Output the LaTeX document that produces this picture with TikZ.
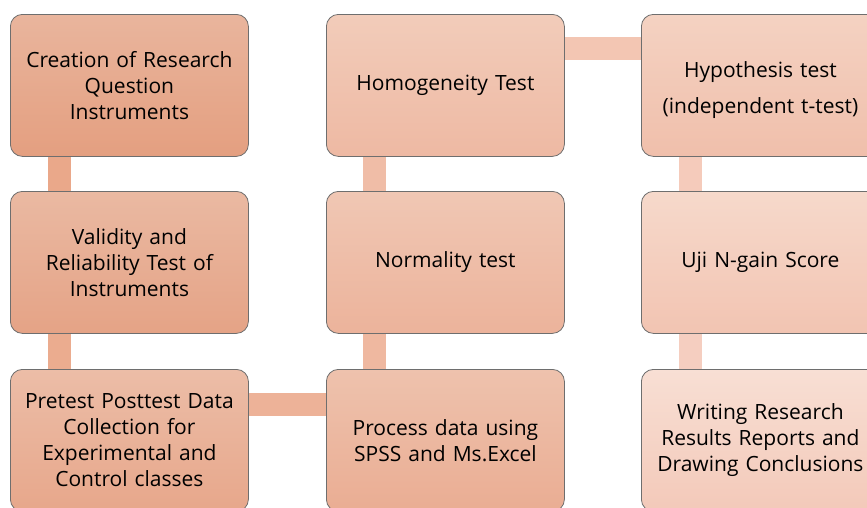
\documentclass[tikz,border=0pt]{standalone}
\usepackage{fontspec}
\setmainfont{Open Sans}[WordSpace=0.7]
\usetikzlibrary{backgrounds}

% step colours, dark (first step) to light (last step)
\definecolor{t1}{HTML}{E9B59D}\definecolor{u1}{HTML}{E49F80}
\definecolor{t2}{HTML}{EAB9A2}\definecolor{u2}{HTML}{E5A386}
\definecolor{t3}{HTML}{ECBDA7}\definecolor{u3}{HTML}{E7A78B}
\definecolor{t4}{HTML}{EEC2AD}\definecolor{u4}{HTML}{EAAD93}
\definecolor{t5}{HTML}{F0C7B4}\definecolor{u5}{HTML}{ECB39B}
\definecolor{t6}{HTML}{F2CCBA}\definecolor{u6}{HTML}{EEB9A3}
\definecolor{t7}{HTML}{F4D2C2}\definecolor{u7}{HTML}{F0BFAB}
\definecolor{t8}{HTML}{F6D9CB}\definecolor{u8}{HTML}{F2C4B2}
\definecolor{t9}{HTML}{F8DFD4}\definecolor{u9}{HTML}{F3C9B9}
\definecolor{boxline}{HTML}{6E6E6E}
\definecolor{k1}{HTML}{EAA88A}
\definecolor{k2}{HTML}{EBAC8F}
\definecolor{k3}{HTML}{EDB298}
\definecolor{k4}{HTML}{EFB8A0}
\definecolor{k5}{HTML}{F0BDA7}
\definecolor{k6}{HTML}{F3C6B3}
\definecolor{k7}{HTML}{F5CBBB}
\definecolor{k8}{HTML}{F5CEC0}

\begin{document}
\begin{tikzpicture}[x=1pt,y=-1pt,
  box/.style 2 args={draw=boxline, line width=0.8pt, rounded corners=12pt,
    minimum width=238pt, minimum height=142pt, anchor=north west,
    align=center, text width=234pt, inner sep=0pt,
    top color=#1, bottom color=#2,
    font=\fontsize{21}{26}\selectfont},
  bar/.style={line width=23pt, draw=#1, line cap=butt}]

\useasboundingbox (0,0) rectangle (867,507);

% column 1
\node[box={t1}{u1}] (b1) at (10,14)  {Creation of Research\\Question\\Instruments};
\node[box={t2}{u2}] (b2) at (10,191) {Validity and\\Reliability Test of\\Instruments};
\node[box={t3}{u3}] (b3) at (10,369) {Pretest Posttest Data\\Collection for\\Experimental and\\Control classes};
% column 2
\node[box={t4}{u4}] (b4) at (326,369) {Process data using\\SPSS and Ms.Excel};
\node[box={t5}{u5}] (b5) at (326,191) {Normality test};
\node[box={t6}{u6}] (b6) at (326,14)  {Homogeneity Test};
% column 3
\node[box={t7}{u7}] (b7) at (641,14)  {\rule{0pt}{26pt}Hypothesis test\\[10pt](independent t-test)};
\node[box={t8}{u8}] (b8) at (641,191) {Uji N-gain Score};
\node[box={t9}{u9}] (b9) at (641,369) {Writing Research\\Results Reports and\\Drawing Conclusions};

% white page and the connecting bars, all behind the boxes
\begin{scope}[on background layer]
  \fill[white] (0,0) rectangle (867,507);
  \draw[bar=k1] ([xshift=49.5pt]b1.south west) -- ([xshift=49.5pt]b2.north west);
  \draw[bar=k2] ([xshift=49.5pt]b2.south west) -- ([xshift=49.5pt]b3.north west);
  \draw[bar=k3] ([yshift=-35.5pt]b3.north east) -- ([yshift=-35.5pt]b4.north west);
  \draw[bar=k4] ([xshift=48.5pt]b4.north west) -- ([xshift=48.5pt]b5.south west);
  \draw[bar=k5] ([xshift=48.5pt]b5.north west) -- ([xshift=48.5pt]b6.south west);
  \draw[bar=k6] ([yshift=-34.5pt]b6.north east) -- ([yshift=-34.5pt]b7.north west);
  \draw[bar=k7] ([xshift=49pt]b7.south west) -- ([xshift=49pt]b8.north west);
  \draw[bar=k8] ([xshift=49pt]b8.south west) -- ([xshift=49pt]b9.north west);
\end{scope}
\end{tikzpicture}
\end{document}
